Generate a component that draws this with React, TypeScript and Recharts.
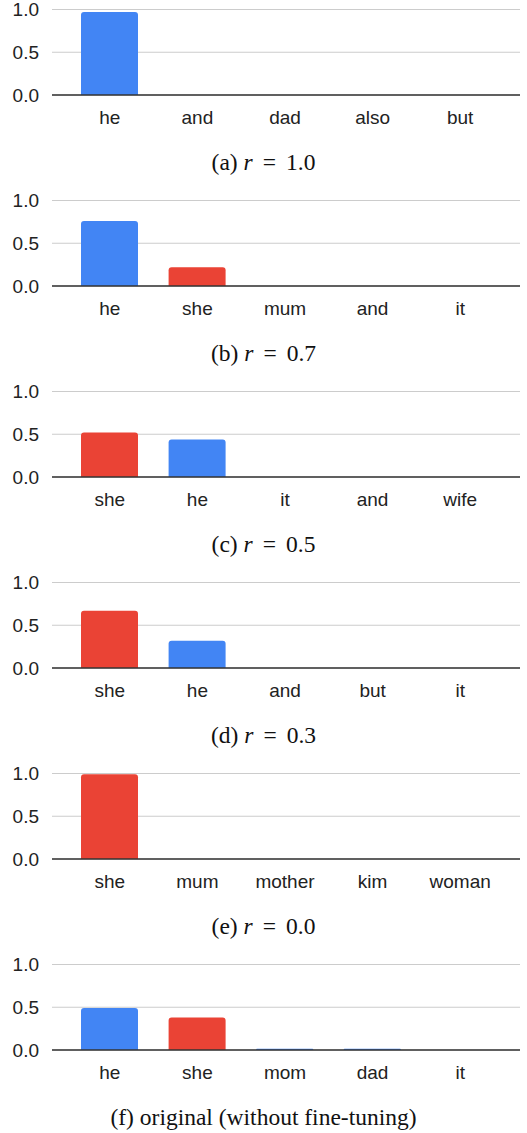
import React from 'react';
import { BarChart, Bar, XAxis, YAxis, CartesianGrid, Cell } from 'recharts';

const catsA = ['he', 'and', 'dad', 'also', 'but'];
const valsA = [0.97, 0, 0, 0, 0];
const catsB = ['he', 'she', 'mum', 'and', 'it'];
const valsB = [0.76, 0.22, 0, 0, 0];
const catsC = ['she', 'he', 'it', 'and', 'wife'];
const valsC = [0.52, 0.44, 0, 0, 0];
const catsD = ['she', 'he', 'and', 'but', 'it'];
const valsD = [0.67, 0.32, 0, 0, 0];
const catsE = ['she', 'mum', 'mother', 'kim', 'woman'];
const valsE = [0.99, 0, 0, 0, 0];
const catsF = ['he', 'she', 'mom', 'dad', 'it'];
const valsF = [0.49, 0.38, 0.015, 0.015, 0];

const yTicks = [0, 0.5, 1];

const panels = [
  { cats: catsA, vals: valsA, label: '(a)', r: '1.0' },
  { cats: catsB, vals: valsB, label: '(b)', r: '0.7' },
  { cats: catsC, vals: valsC, label: '(c)', r: '0.5' },
  { cats: catsD, vals: valsD, label: '(d)', r: '0.3' },
  { cats: catsE, vals: valsE, label: '(e)', r: '0.0' },
  { cats: catsF, vals: valsF, label: '(f) original (without fine-tuning)', r: null },
];

const BLUE = '#4285F4';
const RED = '#EA4335';
const colorFor = (name: string) => (name === 'she' ? RED : BLUE);

const tickStyle = { fontFamily: '"Liberation Sans", Arial, sans-serif', fontSize: 19, fill: '#222' };

function Panel({ cats, vals, label, r }: any) {
  const data = cats.map((c: string, i: number) => ({ name: c, value: vals[i] }));
  return (
    <div style={{ position: 'relative', width: 527, height: 191 }}>
      <BarChart width={527} height={130} data={data} margin={{ top: 9.5, right: 7, left: 0, bottom: 0 }}>
        <CartesianGrid vertical={false} stroke="#cccccc" strokeWidth={1.2} />
        <YAxis
          domain={[0, 1]}
          ticks={yTicks}
          tickFormatter={(v: number) => v.toFixed(1)}
          axisLine={false}
          tickLine={false}
          tickSize={0}
          tickMargin={13}
          width={52}
          tick={tickStyle}
          interval={0}
        />
        <XAxis
          dataKey="name"
          axisLine={{ stroke: '#333333', strokeWidth: 1.5 }}
          tickLine={false}
          tickSize={0}
          tickMargin={15.5}
          height={35}
          padding={{ left: 14, right: 16 }}
          tick={tickStyle}
          interval={0}
        />
        <Bar dataKey="value" barSize={57} radius={[3, 3, 0, 0]} isAnimationActive={false}>
          {data.map((d: any, i: number) => (
            <Cell key={i} fill={colorFor(d.name)} />
          ))}
        </Bar>
      </BarChart>
      <div
        style={{
          position: 'absolute',
          top: 150,
          left: 0,
          width: 527,
          textAlign: 'center',
          fontFamily: '"Liberation Serif", "Times New Roman", serif',
          fontSize: 23.5,
          lineHeight: '24px',
          color: '#111',
          whiteSpace: 'nowrap',
        }}
      >
        {label}
        {r !== null && (
          <>
            {' '}
            <i>r</i>
            <span style={{ marginLeft: 10, marginRight: 10 }}>=</span>
            {r}
          </>
        )}
      </div>
    </div>
  );
}

export default function App() {
  return (
    <div style={{ position: 'absolute', top: 0, left: 0, width: 527, height: 1133, background: '#fff' }}>
      {panels.map((p, i) => (
        <Panel key={i} {...p} />
      ))}
    </div>
  );
}
